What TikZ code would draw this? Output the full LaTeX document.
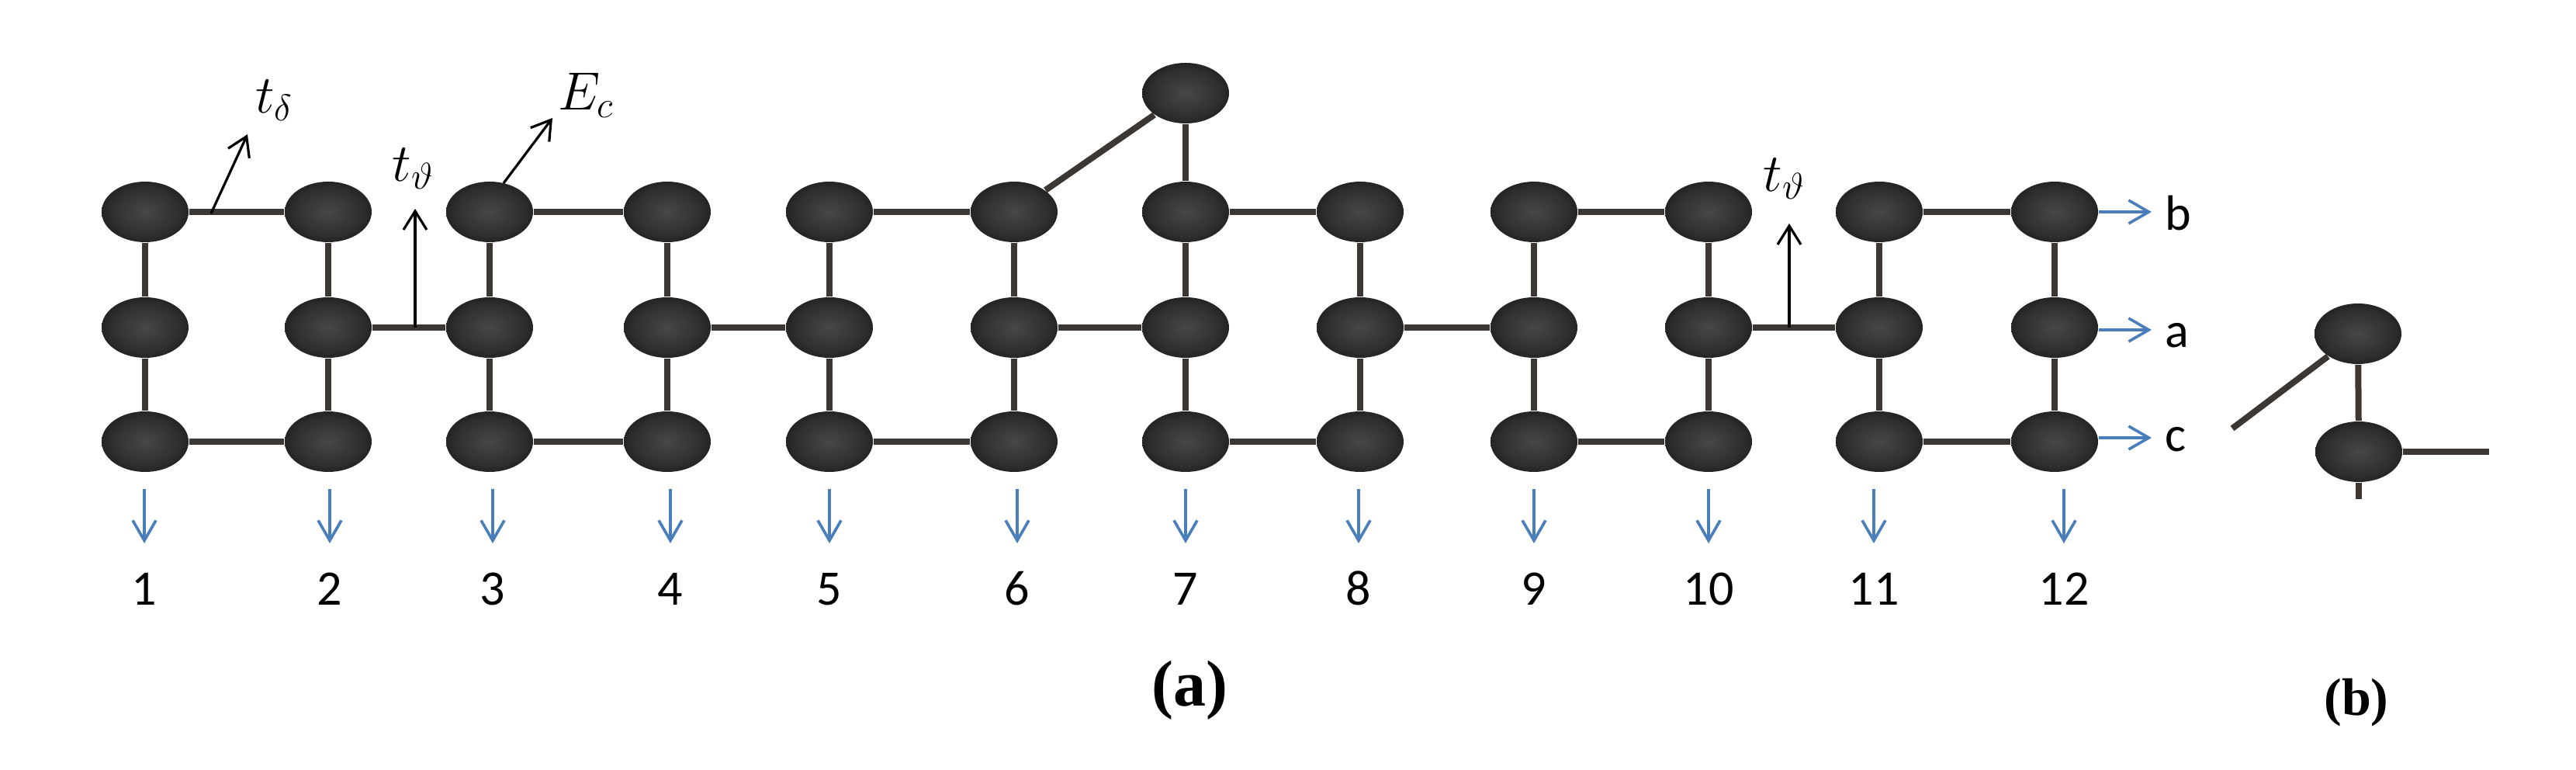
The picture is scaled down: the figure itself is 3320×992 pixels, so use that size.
\documentclass[tikz,border=0pt]{standalone}
\usepackage{fontspec}
\setmainfont{Liberation Serif}
\newfontfamily\calib{Carlito}
\usetikzlibrary{shapes.geometric,arrows.meta}
\definecolor{edgec}{HTML}{3D3733}
\definecolor{bluec}{HTML}{4A7EBB}
\definecolor{ballin}{HTML}{474747}
\definecolor{ballmid}{HTML}{2E2E2E}
\definecolor{ballout}{HTML}{060606}
\pgfdeclareradialshading{ballshade}{\pgfpoint{0bp}{0bp}}{color(0bp)=(ballin); color(20bp)=(ballmid); color(40bp)=(ballout); color(50bp)=(ballout); color(75bp)=(ballout)}
\begin{document}
\begin{tikzpicture}[x=0.25pt,y=-0.25pt,
  ball/.style={ellipse, minimum width=28pt, minimum height=19.5pt, inner sep=0pt, shading=ballshade},
  bond/.style={draw=edgec, line width=2pt},
  barrow/.style={draw=black, line width=0.8pt, -{Straight Barb[length=6pt,width=7.5pt]}},
  blarrow/.style={draw=bluec, line width=0.9pt, -{Straight Barb[length=6.5pt,width=7.5pt]}},
  num/.style={font=\calib\fontsize{16}{19}\selectfont, anchor=base, inner sep=0pt},
  side/.style={font=\calib\fontsize{16}{19}\selectfont, anchor=base west, inner sep=0pt},
  mlbl/.style={font=\fontsize{17}{20}\selectfont, inner sep=0pt},
  captext/.style={anchor=base, inner sep=0pt}]
\useasboundingbox (0,0) rectangle (3320,992);

% balls of (a)
\foreach \i/\x in {1/187,2/423,3/631,4/860,5/1069,6/1307,7/1528,8/1753,9/1977,10/2202,11/2422,12/2648}{
  \node[ball] (t\i) at (\x,273) {};
  \node[ball] (m\i) at (\x,422) {};
  \node[ball] (b\i) at (\x,569) {};
  \draw[bond] (t\i) -- (m\i);
  \draw[bond] (m\i) -- (b\i);
}
\node[ball] (top7) at (1528,120) {};

% horizontal bonds
\foreach \p/\q in {1/2,3/4,5/6,7/8,9/10,11/12}{
  \draw[bond] (t\p) -- (t\q);
  \draw[bond] (b\p) -- (b\q);
}
\foreach \p/\q in {2/3,4/5,6/7,8/9,10/11}{
  \draw[bond] (m\p) -- (m\q);
}
\draw[bond] (top7) -- (t7);
\draw[bond] (t6) -- (top7);

% black arrows and math labels
\coordinate (tds) at (272,275);
\coordinate (tde) at (319,173);
\draw[barrow] (tds) -- (tde);
\node[mlbl] (ltd) at (354,129) {$t_\delta$};

\coordinate (ths1) at (535,422);
\coordinate (the1) at (535,269);
\draw[barrow] (ths1) -- (the1);
\node[mlbl] (lth1) at (533,217) {$t_\vartheta$};

\coordinate (ecs) at (649,236);
\coordinate (ece) at (712,152);
\draw[barrow] (ecs) -- (ece);
\node[mlbl] (lec) at (756,123) {$E_c$};

\coordinate (ths2) at (2306,422);
\coordinate (the2) at (2306,288);
\draw[barrow] (ths2) -- (the2);
\node[mlbl] (lth2) at (2300,230) {$t_\vartheta$};

% right blue arrows and labels
\coordinate (eb) at (2773,273);
\coordinate (ea) at (2773,425);
\coordinate (ec) at (2773,564);
\draw[blarrow] (t12.east |- eb) -- (eb);
\draw[blarrow] (m12.east |- ea) -- (ea);
\draw[blarrow] (b12.east |- ec) -- (ec);
\node[side] (lb) at (2790,297) {b};
\node[side] (la) at (2790,448) {a};
\node[side] (lc) at (2790,582) {c};

% down blue arrows and numbers
\foreach \i/\x in {1/186,2/425,3/635,4/864,5/1069,6/1311,7/1528,8/1751,9/1977,10/2202,11/2415,12/2660}{
  \coordinate (ds\i) at (\x,630);
  \coordinate (de\i) at (\x,700);
  \draw[blarrow] (ds\i) -- (de\i);
  \node[num] (n\i) at (\x,780) {\i};
}

% part (b)
\node[ball] (bt) at (3039,430) {};
\node[ball] (bb) at (3040,582) {};
\coordinate (bd) at (2877,552);
\coordinate (bh) at (3208,582);
\coordinate (bv) at (3040,643);
\draw[bond] (bd) -- (bt);
\draw[bond] (bt) -- (bb);
\draw[bond] (bb) -- (bh);
\draw[bond] (bb) -- (bv);

% captions
\node[captext, font=\bfseries\fontsize{21}{24}\selectfont] (capa) at (1533,910) {(a)};
\node[captext, font=\bfseries\fontsize{17}{20}\selectfont] (capb) at (3037,922) {(b)};
\end{tikzpicture}
\end{document}
